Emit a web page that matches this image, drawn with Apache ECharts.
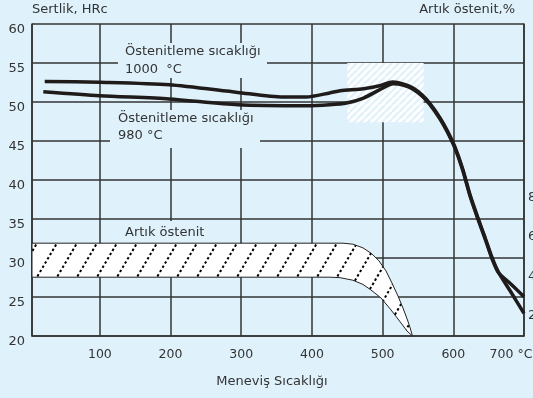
<!DOCTYPE html>
<html><head><meta charset="utf-8">
<script src="https://cdn.jsdelivr.net/npm/echarts@6/dist/echarts.min.js"></script>
<style>html,body{margin:0;padding:0;background:#dff2fc;} #c{width:533px;height:398px;}</style>
</head><body><div id="c"></div>
<script>
// ---- data ----
const tempTicks = [100, 200, 300, 400, 500, 600, 700];
const austeniteTicks = [2, 4, 6, 8];
const curve1000 = [[22,52.64],[100,52.52],[198,52.2],[295,51.23],[359,50.64],[392,50.64],[425,51.16],[440,51.45],[473,51.71],[496,52.09],[514,52.55],[530,52.3],[543,51.8],[556,50.9],[567,49.8],[581,48.0],[591,46.4],[602,44.3],[613,41.5],[624,38.0],[635,35.1],[645,32.6],[655,30.0],[664,28.15],[681,25.7],[700,22.9]];
const curve980 = [[20,51.32],[100,50.81],[198,50.39],[295,49.65],[392,49.52],[425,49.65],[449,49.87],[473,50.51],[496,51.58],[515,52.35],[530,52.15],[543,51.65],[556,50.75],[567,49.65],[581,47.85],[591,46.25],[602,44.15],[613,41.35],[624,37.85],[635,34.95],[645,32.45],[655,29.85],[664,28.1],[681,26.7],[700,25.04]];
const austeniteTop = [[4,31.9],[443.9,31.9],[458,31.77],[472.2,31.3],[484.9,30.53],[494.8,29.63],[504.7,28.35],[513.2,26.8],[521.7,25.13],[528.8,23.59],[535.2,22.05],[539.4,20.9],[542.2,20]];
const austeniteBottom = [[4,27.54],[425.5,27.54],[439.6,27.48],[458,27.15],[472.2,26.61],[483.5,25.9],[497.7,24.88],[511.9,23.34],[526,21.67],[534.5,20.64],[542.2,20]];
const markedRegion = [[450, 55], [558, 47.4]];

// ---- styles ----
const BG = '#dff2fc';
const INK = '#333333';
const FONT = 'DejaVu Sans';

function makeHatch() {
  const c = document.createElement('canvas'); c.width = 20; c.height = 34;
  const g = c.getContext('2d');
  g.fillStyle = '#ffffff'; g.fillRect(0, 0, 20, 34);
  g.strokeStyle = '#000'; g.lineWidth = 2; g.setLineDash([2.4, 2.5]);
  for (const dx of [-20, 0, 20]) { g.beginPath(); g.moveTo(dx, 34); g.lineTo(dx + 20, 0); g.stroke(); }
  return c;
}
function makeStripes() {
  const c = document.createElement('canvas'); c.width = 7; c.height = 7;
  const g = c.getContext('2d');
  g.fillStyle = '#ffffff'; g.fillRect(0, 0, 7, 7);
  g.strokeStyle = '#e3f1fa'; g.lineWidth = 2.4;
  for (const dx of [-7, 0, 7]) { g.beginPath(); g.moveTo(dx, 7); g.lineTo(dx + 7, 0); g.stroke(); }
  return c;
}
const hatch = makeHatch();
const stripes = makeStripes();

const chart = echarts.init(document.getElementById('c'));
const lineStyleAxis = { color: INK, width: 1.5 };
const txt = { fontFamily: FONT, fontSize: 13, color: INK };

chart.setOption({
  backgroundColor: BG,
  animation: false,
  grid: { left: 32, right: 9, top: 24, bottom: 62, containLabel: false, outerBoundsMode: 'none' },
  xAxis: {
    type: 'value', min: 4, max: 700, splitNumber: 7,
    axisLine: { show: true, lineStyle: lineStyleAxis },
    axisTick: { show: false },
    splitLine: { show: true, lineStyle: lineStyleAxis },
    axisLabel: {
      margin: 12, fontFamily: FONT, fontSize: 12.5, color: INK,
      formatter: v => v === 700 ? '{u|700 °C}' : (tempTicks.includes(v) ? String(v) : ''),
      rich: { u: { fontFamily: FONT, fontSize: 12.5, color: INK, padding: [0, 26, 0, 0] } }
    },
    name: 'Meneviş Sıcaklığı', nameLocation: 'middle', nameGap: 39,
    nameTextStyle: Object.assign({}, txt, { padding: [0, 12, 0, 0] })
  },
  yAxis: [{
    type: 'value', min: 20, max: 60, interval: 5,
    axisLine: { show: true, lineStyle: lineStyleAxis },
    axisTick: { show: false },
    splitLine: { show: true, lineStyle: lineStyleAxis },
    axisLabel: { margin: 7, fontFamily: FONT, fontSize: 13, color: INK, verticalAlign: 'top', lineHeight: 11 },
    name: 'Sertlik, HRc', nameLocation: 'end', nameGap: 14,
    nameTextStyle: Object.assign({}, txt, { align: 'left', verticalAlign: 'middle' })
  }, {
    type: 'value', position: 'right', min: 0.7, max: 16.5, splitNumber: 8,
    axisLine: { show: true, lineStyle: lineStyleAxis },
    axisTick: { show: false },
    splitLine: { show: false },
    axisLabel: { margin: 4, fontFamily: FONT, fontSize: 13, color: INK, verticalAlign: 'top', lineHeight: 11,
      formatter: v => austeniteTicks.includes(Math.round(v * 1000) / 1000) ? String(Math.round(v)) : '' },
    name: 'Artık östenit,%', nameLocation: 'end', nameGap: 14,
    nameTextStyle: Object.assign({}, txt, { align: 'right', verticalAlign: 'middle', padding: [0, 9, 0, 0] })
  }],
  graphic: { elements: [
    { type: 'rect', z: 1, silent: true, shape: { x: 118, y: 43, width: 149, height: 35 }, style: { fill: BG } },
    { type: 'text', z: 1, silent: true, style: { x: 125, y: 42.9, text: 'Östenitleme sıcaklığı\n1000  °C', font: '13px "DejaVu Sans"', fill: INK, lineHeight: 17.6, verticalAlign: 'top' } },
    { type: 'rect', z: 1, silent: true, shape: { x: 110, y: 110, width: 150, height: 38 }, style: { fill: BG } },
    { type: 'text', z: 1, silent: true, style: { x: 118, y: 109.5, text: 'Östenitleme sıcaklığı\n980 °C', font: '13px "DejaVu Sans"', fill: INK, lineHeight: 17.6, verticalAlign: 'top' } },
    { type: 'rect', z: 1, silent: true, shape: { x: 118, y: 221, width: 94, height: 22 }, style: { fill: BG } },
    { type: 'text', z: 1, silent: true, style: { x: 125, y: 232.3, text: 'Artık östenit', font: '13px "DejaVu Sans"', fill: INK, verticalAlign: 'middle' } }
  ] },
  series: [
    {
      type: 'custom', z: 1, silent: true, data: [[4, 20]],
      renderItem: (params, api) => {
        const a = api.coord(markedRegion[0]), b = api.coord(markedRegion[1]);
        return { type: 'rect', shape: { x: a[0], y: a[1], width: b[0] - a[0], height: b[1] - a[1] },
          style: { fill: { image: stripes, repeat: 'repeat' } } };
      }
    },
    {
      type: 'custom', z: 1, silent: true, data: [[4, 20]],
      renderItem: (params, api) => {
        const pts = austeniteTop.map(p => api.coord(p))
          .concat(austeniteBottom.slice().reverse().map(p => api.coord(p)));
        return { type: 'polygon', shape: { points: pts },
          style: { fill: { image: hatch, repeat: 'repeat' }, stroke: '#222', lineWidth: 1 } };
      }
    },
    { name: '1000 °C', type: 'line', z: 3, data: curve1000, showSymbol: false, smooth: 0.25,
      lineStyle: { color: '#1f1b1b', width: 3.5 } },
    { name: '980 °C', type: 'line', z: 3, data: curve980, showSymbol: false, smooth: 0.25,
      lineStyle: { color: '#1f1b1b', width: 3.5 } }
  ]
});
</script>
</body></html>
